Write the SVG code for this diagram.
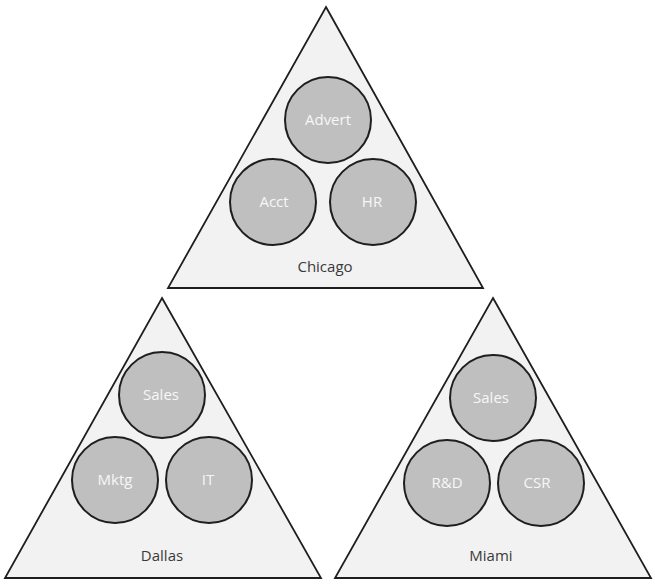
<svg xmlns="http://www.w3.org/2000/svg" width="655" height="585" viewBox="0 0 655 585">
<style>
.tri{fill:#f2f2f2;stroke:#1e1e1e;stroke-width:1.8;stroke-linejoin:miter}
.c{fill:#bfbfbf;stroke:#1e1e1e;stroke-width:2}
.ct{font-family:"Open Sans","Noto Sans",sans-serif;font-size:15px;fill:#f7f7f7;text-anchor:middle}
.lt{font-family:"Open Sans","Noto Sans",sans-serif;font-size:15px;fill:#3a3a3a;text-anchor:middle}
</style>
<rect width="655" height="585" fill="#ffffff"/>
<g id="chicago">
<polygon class="tri" points="326,7 483,288 168,288"/>
<text class="lt" x="325" y="272">Chicago</text>
</g>
<g id="advert"><circle class="c" cx="328" cy="120" r="43"/><text class="ct" x="328" y="125">Advert</text></g>
<g id="acct"><circle class="c" cx="273" cy="202" r="43"/><text class="ct" x="274" y="207">Acct</text></g>
<g id="hr"><circle class="c" cx="373" cy="202" r="43"/><text class="ct" x="372" y="207">HR</text></g>
<g id="dallas">
<polygon class="tri" points="162,298 321,578 5,578"/>
<text class="lt" x="162" y="561">Dallas</text>
</g>
<g id="dallas-sales"><circle class="c" cx="162" cy="395" r="43"/><text class="ct" x="161" y="400">Sales</text></g>
<g id="mktg"><circle class="c" cx="115" cy="480" r="43"/><text class="ct" x="115" y="485">Mktg</text></g>
<g id="it"><circle class="c" cx="209" cy="480" r="43"/><text class="ct" x="208" y="485">IT</text></g>
<g id="miami">
<polygon class="tri" points="493,298 651,578 335,578"/>
<text class="lt" x="491" y="561">Miami</text>
</g>
<g id="miami-sales"><circle class="c" cx="493" cy="398" r="43"/><text class="ct" x="491" y="403">Sales</text></g>
<g id="rd"><circle class="c" cx="447" cy="483" r="43"/><text class="ct" x="447" y="488">R&amp;D</text></g>
<g id="csr"><circle class="c" cx="541" cy="483" r="43"/><text class="ct" x="537" y="488">CSR</text></g>
<g id="connectors"></g>
</svg>
